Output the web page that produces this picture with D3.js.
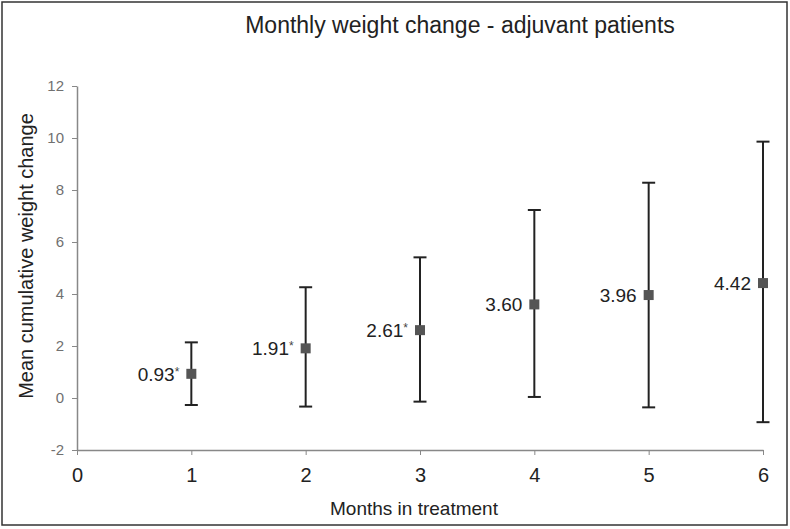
<!DOCTYPE html>
<html><head><meta charset="utf-8">
<script src="https://cdn.jsdelivr.net/npm/d3@7"></script>
<style>body{margin:0;background:#fff}svg{display:block;font-family:"Liberation Sans",Arial,sans-serif}</style>
</head><body><svg id="c" width="790" height="529"></svg>
<script>
const months = [1, 2, 3, 4, 5, 6];
const means = [0.93, 1.91, 2.61, 3.60, 3.96, 4.42];
const upper = [2.14, 4.26, 5.41, 7.23, 8.28, 9.86];
const lower = [-0.27, -0.33, -0.14, 0.04, -0.36, -0.93];
const labels = ["0.93", "1.91", "2.61", "3.60", "3.96", "4.42"];
const stars = [true, true, true, false, false, false];
const xTicks = [0, 1, 2, 3, 4, 5, 6];
const yTicks = [-2, 0, 2, 4, 6, 8, 10, 12];

const FONT = '"Liberation Sans",Arial,sans-serif';
const svg = d3.select("#c");
svg.append("rect").attr("x", 2).attr("y", 2).attr("width", 785).attr("height", 523)
  .attr("fill", "#fff").attr("stroke", "#333").attr("stroke-width", 1.5);

const x = d3.scaleLinear().domain([0, 6]).range([77, 763]);
const y = d3.scaleLinear().domain([-2, 12]).range([450, 86]);

const yAxis = svg.append("g").attr("transform", "translate(77,0)")
  .call(d3.axisLeft(y).tickValues(yTicks).tickSize(5).tickPadding(8).tickSizeOuter(0).tickFormat(d => String(d)));
yAxis.select(".domain").attr("stroke", "#888").attr("stroke-width", 1.5);
yAxis.selectAll(".tick line").attr("stroke", "#888");
yAxis.selectAll(".tick text").attr("fill", "#707070").style("font-size", "15px").style("font-family", FONT);

const xAxis = svg.append("g").attr("transform", "translate(0,450)")
  .call(d3.axisBottom(x).tickValues(xTicks).tickSize(5).tickPadding(13).tickSizeOuter(0).tickFormat(d => String(d)));
xAxis.select(".domain").attr("stroke", "#888").attr("stroke-width", 1.5);
xAxis.selectAll(".tick line").attr("stroke", "#888");
xAxis.selectAll(".tick text").attr("fill", "#222").style("font-size", "20px").style("font-family", FONT);

const g = svg.append("g");
months.forEach((m, i) => {
  const cx = x(m);
  g.append("line").attr("x1", cx).attr("x2", cx).attr("y1", y(upper[i])).attr("y2", y(lower[i]))
    .attr("stroke", "#222").attr("stroke-width", 2);
  [upper[i], lower[i]].forEach(v => {
    g.append("line").attr("x1", cx - 6.5).attr("x2", cx + 6.5).attr("y1", y(v)).attr("y2", y(v))
      .attr("stroke", "#222").attr("stroke-width", 2);
  });
  g.append("rect").attr("x", cx - 5).attr("y", y(means[i]) - 5).attr("width", 10).attr("height", 10)
    .attr("fill", "#555");
  const t = g.append("text").attr("x", cx - 12).attr("y", y(means[i]) + 7)
    .attr("text-anchor", "end").attr("fill", "#222").style("font-size", "19px");
  t.append("tspan").text(labels[i]);
  if (stars[i]) t.append("tspan").attr("dy", -5).attr("fill", "#444").style("font-size", "12px").text("*");
});

svg.append("text").attr("x", 460).attr("y", 33).attr("text-anchor", "middle")
  .attr("fill", "#222").style("font-size", "23px").text("Monthly weight change - adjuvant patients");
svg.append("text").attr("x", 414).attr("y", 515).attr("text-anchor", "middle")
  .attr("fill", "#222").style("font-size", "19px").text("Months in treatment");
svg.append("text").attr("transform", "translate(33,256) rotate(-90)").attr("text-anchor", "middle")
  .attr("fill", "#222").style("font-size", "20px").text("Mean cumulative weight change");
</script></body></html>
